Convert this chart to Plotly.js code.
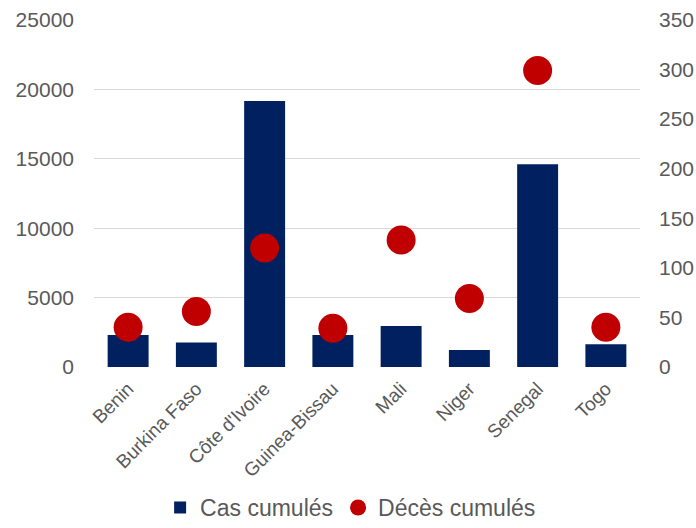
<!DOCTYPE html>
<html>
<head>
<meta charset="utf-8">
<script src="https://cdn.plot.ly/plotly-3.0.1.min.js"></script>
<style>html,body{margin:0;padding:0;background:#fff;}#chart{width:696px;height:528px;}</style>
</head>
<body>
<div id="chart"></div>
<script>
var countries = ["Benin", "Burkina Faso", "Côte d'Ivoire", "Guinea-Bissau", "Mali", "Niger", "Senegal", "Togo"];
var casCumules = [2310, 1760, 19170, 2310, 2960, 1230, 14610, 1640];
var decesCumules = [40, 56, 120, 39, 128, 69, 299, 40];
var leftTicks = [0, 5000, 10000, 15000, 20000, 25000];
var rightTicks = [0, 50, 100, 150, 200, 250, 300, 350];

var fontFam = "Liberation Sans, Arial, sans-serif";
var grey = "#595959";

var traces = [
  {
    type: "bar", name: "Cas cumulés", x: countries, y: casCumules,
    marker: {color: "#002060"}, yaxis: "y"
  },
  {
    type: "scatter", mode: "markers", name: "Décès cumulés", x: countries, y: decesCumules,
    marker: {color: "#C00000", size: 29}, yaxis: "y2"
  }
];

var layout = {
  width: 696, height: 528,
  margin: {l: 94, r: 56, t: 20, b: 161, autoexpand: false},
  paper_bgcolor: "#fff", plot_bgcolor: "#fff",
  font: {family: fontFam, color: grey},
  bargap: 0.40,
  showlegend: true,
  legend: {orientation: "h", x: 0.47, xanchor: "center", y: -0.405, yanchor: "middle",
           font: {size: 23, color: grey}, itemsizing: "trace", traceorder: "normal"},
  xaxis: {
    type: "category", range: [-0.5, countries.length - 0.5], tickangle: -45, tickfont: {size: 19, color: grey},
    showgrid: false, showline: false, ticks: "", zeroline: false, automargin: false, ticklabelstandoff: 6
  },
  yaxis: {
    range: [0, 25000], tickvals: leftTicks, ticktext: leftTicks.map(String),
    tickfont: {size: 21, color: grey}, gridcolor: "#D9D9D9", gridwidth: 1.3,
    zeroline: false, showline: false, ticks: "", ticklabelstandoff: 19, automargin: false
  },
  yaxis2: {
    range: [0, 350], tickvals: rightTicks, ticktext: rightTicks.map(String),
    overlaying: "y", side: "right", showgrid: false, zeroline: false,
    tickfont: {size: 21, color: grey}, ticks: "", ticklabelstandoff: 18, automargin: false
  }
};

Plotly.newPlot("chart", traces, layout, {displayModeBar: false, staticPlot: true});
</script>
</body>
</html>
